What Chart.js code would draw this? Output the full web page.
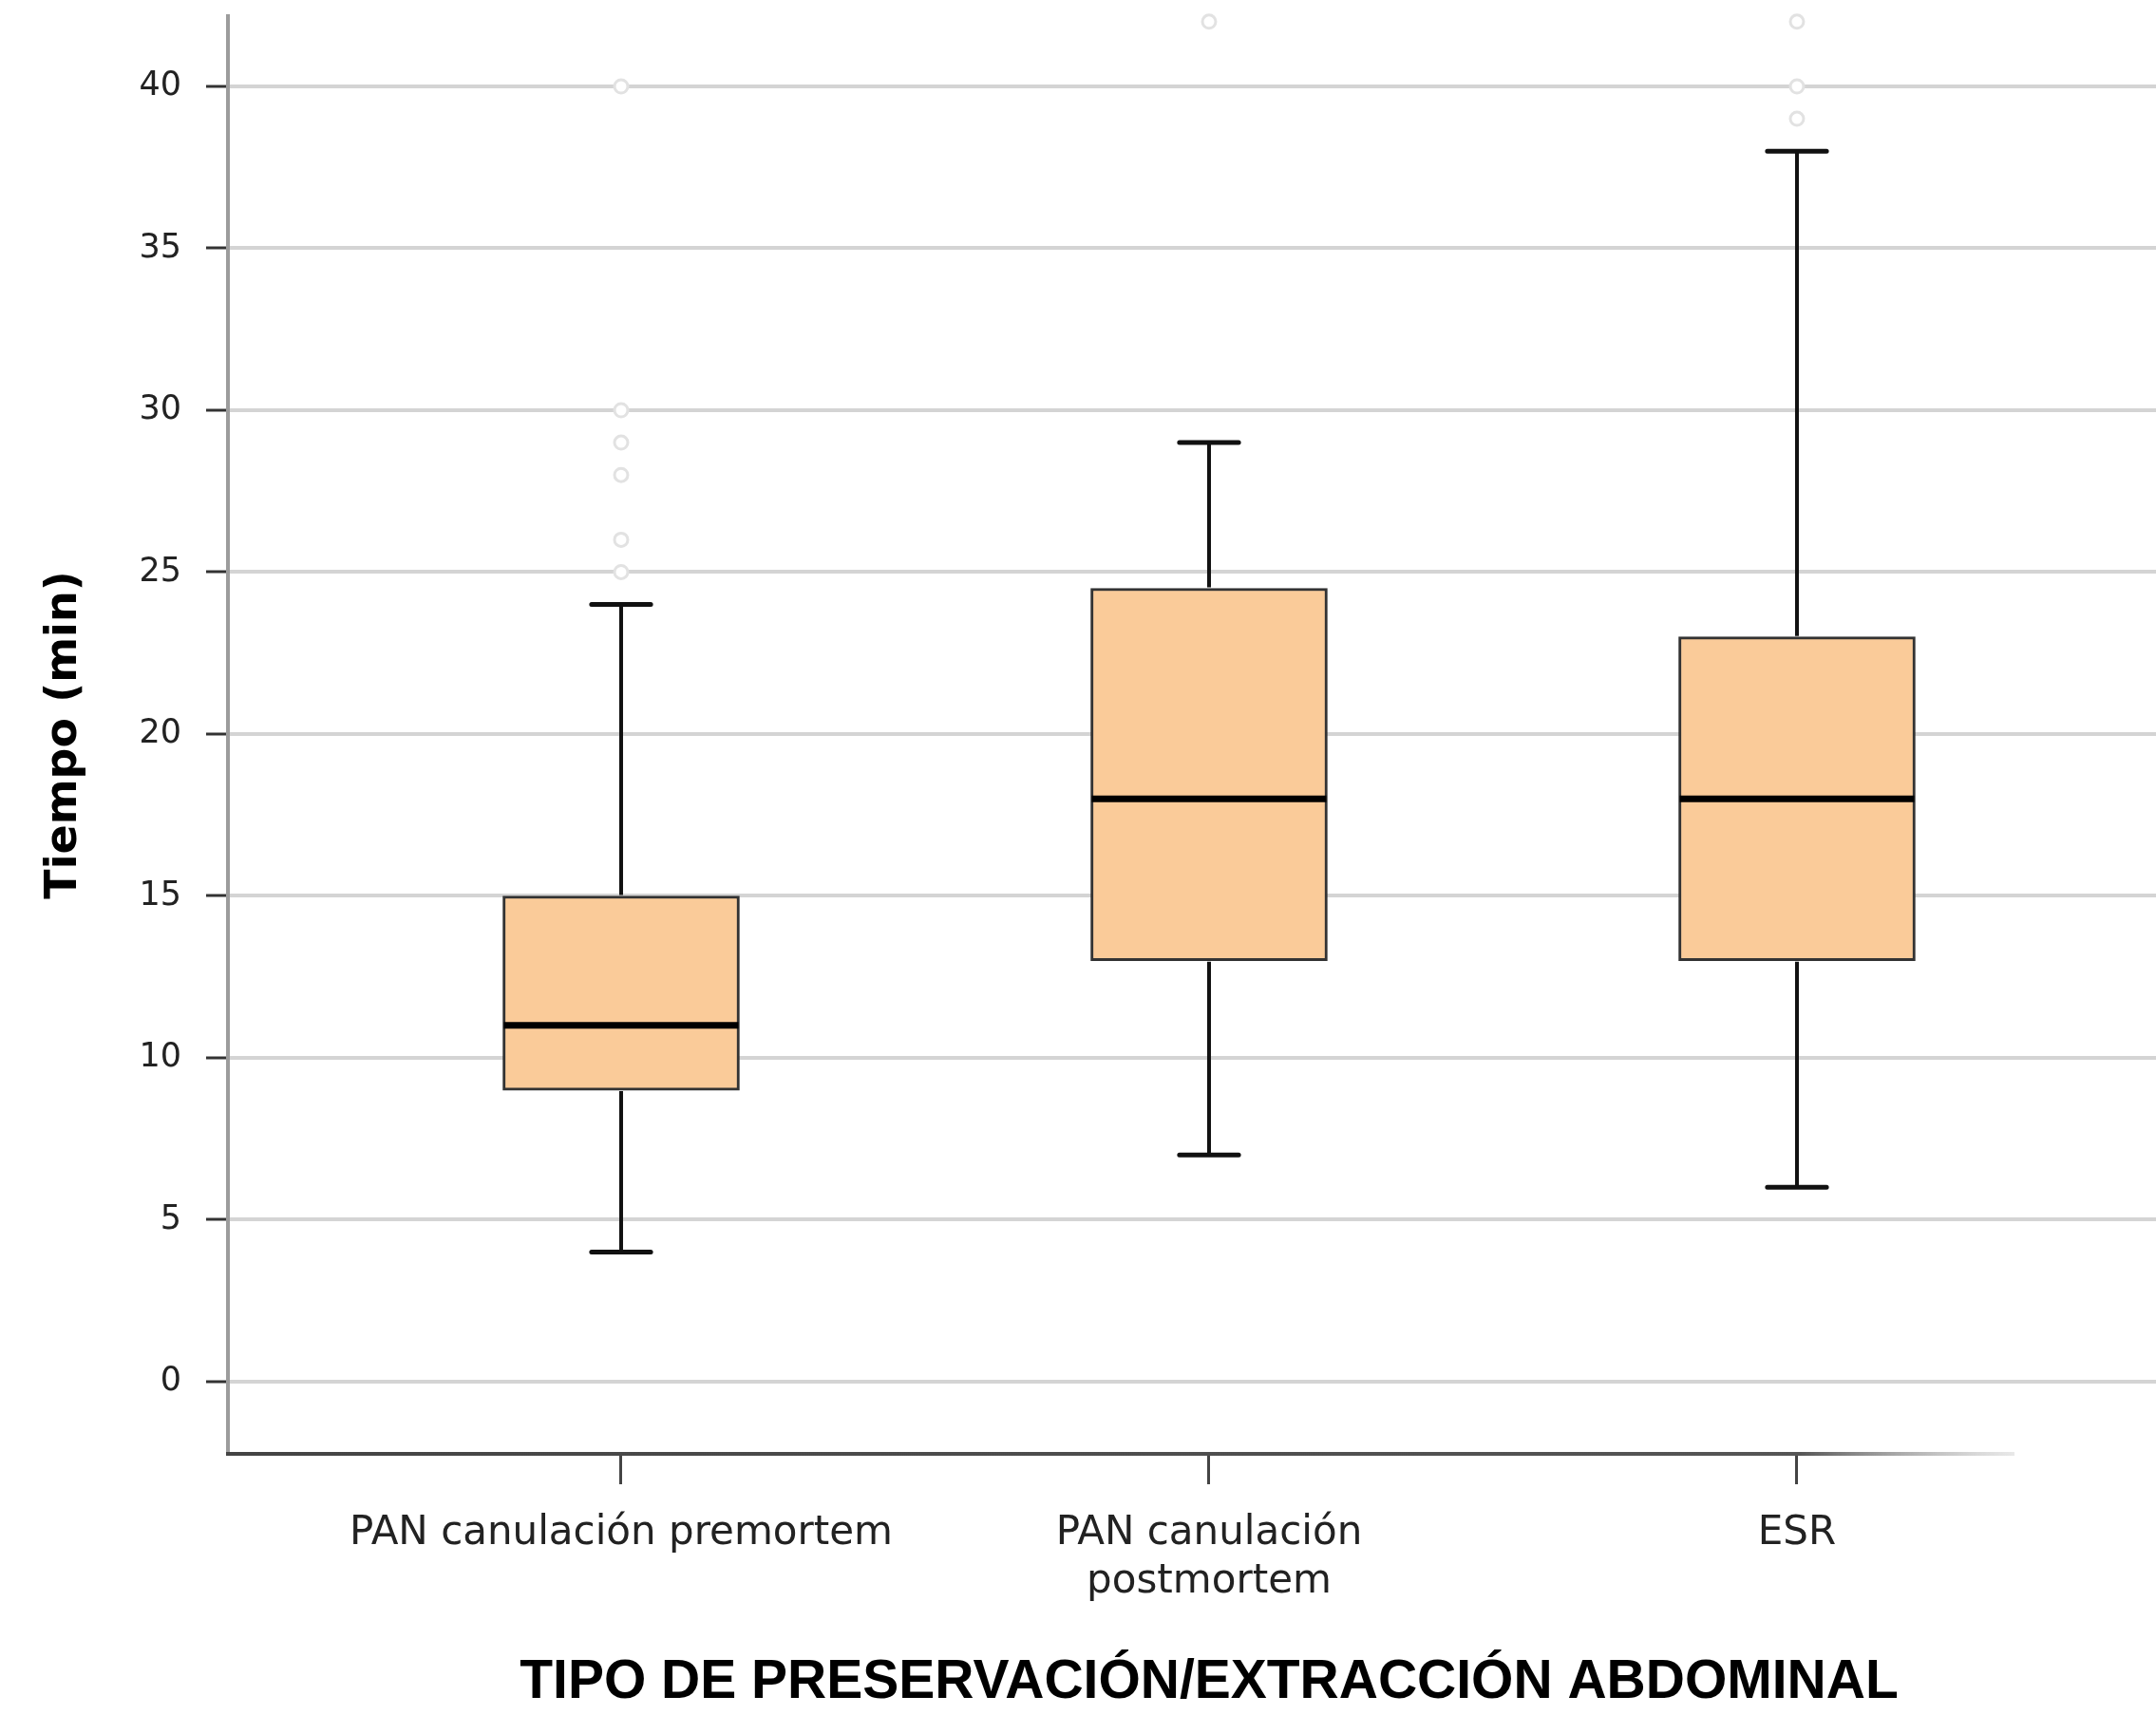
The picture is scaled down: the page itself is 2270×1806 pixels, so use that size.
<!DOCTYPE html>
<html lang="es">
<head>
<meta charset="utf-8">
<title>Tiempo por tipo de preservación/extracción abdominal</title>
<script src="https://cdn.jsdelivr.net/npm/chart.js@4.4.1/dist/chart.umd.min.js"></script>
<style>
  html, body { margin: 0; padding: 0; background: #fff; }
  #wrap { width: 2270px; height: 1806px; }
</style>
</head>
<body>
<div id="wrap"><canvas id="boxChart" width="2270" height="1806"></canvas></div>
<script>
const categorias = [['PAN canulación premortem'], ['PAN canulación', 'postmortem'], ['ESR']];
const posiciones = [1, 2, 3];
const minimos = [4, 7, 6];
const q1 = [9, 13, 13];
const medianas = [11, 18, 18];
const q3 = [15, 24.5, 23];
const maximos = [24, 29, 38];
const atipicos = [[25, 26, 28, 29, 30, 40], [42], [39, 40, 42]];
const ticksY = [0, 5, 10, 15, 20, 25, 30, 35, 40];
const finEjeX = 3.37; // donde termina la línea del eje X
const tituloX = 'TIPO DE PRESERVACIÓN/EXTRACCIÓN ABDOMINAL';

// bigotes, topes y medianas
const bigotes = {
    id: 'bigotes',
    afterDatasetDraw(chart, args) {
        if (args.index !== 0) return;
        const ctx = chart.ctx;
        const y = chart.scales.y;
        const meta = chart.getDatasetMeta(0);
        ctx.save();
        meta.data.forEach((caja, i) => {
            const cx = caja.x;
            const ancho = caja.width;
            const tope = ancho / 8;

            ctx.strokeStyle = '#111';
            ctx.lineWidth = 4;
            ctx.lineCap = 'butt';
            ctx.beginPath();
            ctx.moveTo(cx, y.getPixelForValue(q3[i]) - 1);
            ctx.lineTo(cx, y.getPixelForValue(maximos[i]));
            ctx.moveTo(cx, y.getPixelForValue(q1[i]) + 1);
            ctx.lineTo(cx, y.getPixelForValue(minimos[i]));
            ctx.stroke();

            ctx.lineWidth = 5;
            ctx.lineCap = 'round';
            ctx.beginPath();
            [maximos[i], minimos[i]].forEach(v => {
                const py = y.getPixelForValue(v);
                ctx.moveTo(cx - tope, py);
                ctx.lineTo(cx + tope, py);
            });
            ctx.stroke();

            ctx.strokeStyle = '#000';
            ctx.lineWidth = 7;
            ctx.lineCap = 'butt';
            ctx.beginPath();
            const pm = y.getPixelForValue(medianas[i]);
            ctx.moveTo(cx - ancho / 2 + 1, pm);
            ctx.lineTo(cx + ancho / 2 - 1, pm);
            ctx.stroke();
        });
        ctx.restore();
    }
};

// línea del eje X que se desvanece a la derecha + título bajo la categoría central
const ejeX = {
    id: 'ejeX',
    beforeDatasetsDraw(chart) {
        const ctx = chart.ctx;
        const area = chart.chartArea;
        const x0 = area.left;
        const x1 = chart.scales.x.getPixelForValue(finEjeX);
        const grad = ctx.createLinearGradient(x0, 0, x1, 0);
        grad.addColorStop(0, '#444');
        grad.addColorStop(0.88, '#555');
        grad.addColorStop(1, 'rgba(180,180,180,0.3)');
        ctx.save();
        ctx.strokeStyle = grad;
        ctx.lineWidth = 4;
        ctx.beginPath();
        ctx.moveTo(x0 - 2, area.bottom);
        ctx.lineTo(x1, area.bottom);
        ctx.stroke();
        ctx.restore();
    },
    afterDraw(chart) {
        const ctx = chart.ctx;
        const xs = chart.scales.x;
        ctx.save();
        ctx.font = 'bold 57px "Liberation Sans", Arial, sans-serif';
        ctx.fillStyle = '#000';
        ctx.textAlign = 'center';
        ctx.textBaseline = 'middle';
        ctx.fillText(tituloX, xs.getPixelForValue(posiciones[1]), xs.bottom - 34);
        ctx.restore();
    }
};

const puntosAtipicos = [];
atipicos.forEach((lista, i) => {
    lista.forEach(v => puntosAtipicos.push({ x: posiciones[i], y: v }));
});

const ctxBox = document.getElementById('boxChart');

new Chart(ctxBox, {
    type: 'bar',
    data: {
        datasets: [{
            label: 'Caja',
            data: posiciones.map((p, i) => ({ x: p, y: [q1[i], q3[i]] })),
            backgroundColor: '#FACB99',
            borderColor: '#333',
            borderWidth: 3,
            borderSkipped: false,
            barThickness: 249
        }, {
            type: 'scatter',
            label: 'Atípicos',
            data: puntosAtipicos,
            pointStyle: 'circle',
            pointRadius: 7,
            pointBorderWidth: 3,
            pointBorderColor: '#e2e2e2',
            pointBackgroundColor: '#fff',
            clip: false
        }]
    },
    options: {
        responsive: false,
        animation: false,
        layout: {
            autoPadding: false,
            padding: { top: 17, left: 0, right: 0, bottom: 0 }
        },
        plugins: {
            legend: { display: false },
            tooltip: { enabled: false }
        },
        scales: {
            x: {
                type: 'linear',
                offset: false,
                min: 0.3312,
                max: 3.6107,
                afterBuildTicks: s => { s.ticks = posiciones.map(v => ({ value: v })); },
                afterFit: s => { s.height = 275; s.paddingLeft = 0; s.paddingRight = 0; },
                grid: {
                    offset: false,
                    drawOnChartArea: false,
                    drawTicks: true,
                    tickLength: 32,
                    tickWidth: 3,
                    tickColor: '#444',
                    color: '#444'
                },
                border: { display: false },
                ticks: {
                    padding: 26,
                    autoSkip: false,
                    maxRotation: 0,
                    color: '#222',
                    font: { family: 'DejaVu Sans', size: 42, lineHeight: 1.22 },
                    callback: (v, i) => categorias[i]
                },
                title: { display: false }
            },
            y: {
                min: -2.23,
                max: 42.17,
                afterBuildTicks: s => { s.ticks = ticksY.map(v => ({ value: v })); },
                afterFit: s => { s.width = 240; s.paddingTop = 0; s.paddingBottom = 0; },
                grid: {
                    color: '#d4d4d4',
                    lineWidth: 4,
                    tickLength: 23,
                    tickWidth: 3,
                    tickColor: '#333'
                },
                border: { display: true, color: '#9c9c9c', width: 4 },
                ticks: {
                    padding: 26,
                    color: '#222',
                    font: { family: 'DejaVu Sans', size: 35 }
                },
                title: {
                    display: true,
                    text: 'Tiempo (min)',
                    color: '#000',
                    font: { family: 'DejaVu Sans', size: 46, weight: 'bold' },
                    padding: { top: 40, bottom: 0 }
                }
            }
        }
    },
    plugins: [bigotes, ejeX]
});
</script>
</body>
</html>
